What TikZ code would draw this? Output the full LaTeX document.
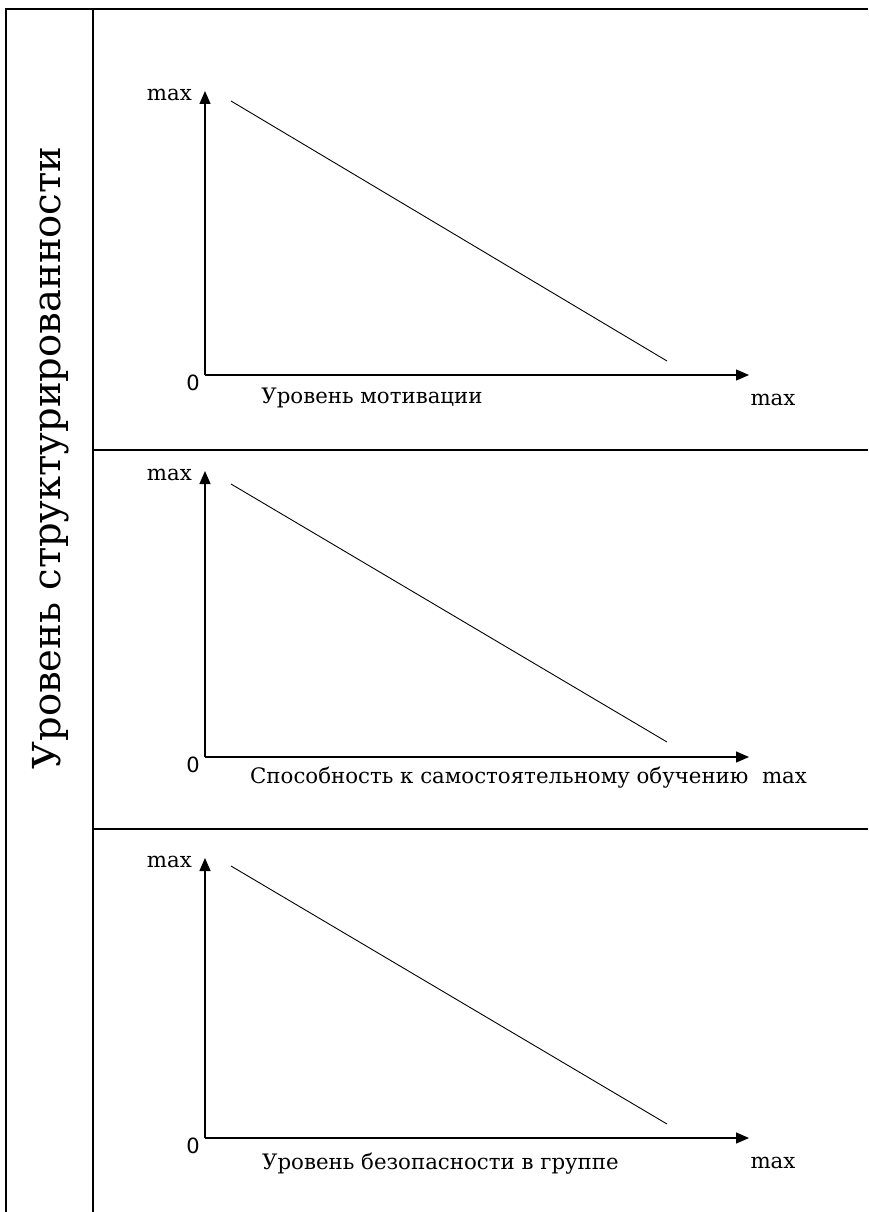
\documentclass[tikz,border=0pt]{standalone}
\usepackage{fontspec}
\setmainfont{DejaVu Serif}
\newfontfamily\zerofont{DejaVu Sans}
\newfontfamily\bigfont{DejaVu Serif}
\usetikzlibrary{arrows.meta}
\tikzset{
  frame/.style={line width=1.3pt, black},
  axis/.style={line width=1.3pt, -{Triangle[length=13pt,width=11pt]}},
  diag/.style={line width=0.9pt},
  lbl/.style={inner sep=0pt, font=\fontsize{21.3}{24}\selectfont},
  zero/.style={inner sep=0pt, font=\zerofont\fontsize{21}{24}\selectfont},
}
\begin{document}
\begin{tikzpicture}[x=1pt,y=-1pt]
\useasboundingbox (0,0) rectangle (868,1212);
% frame
\coordinate (tl) at (6,9);
\coordinate (tr) at (868,9);
\coordinate (bl) at (6,1212);
\coordinate (dt) at (93,9);
\coordinate (db) at (93,1212);
\coordinate (h1l) at (93,450);
\coordinate (h1r) at (868,450);
\coordinate (h2l) at (93,829);
\coordinate (h2r) at (868,829);
\draw[frame] (bl) -- (tl) -- (tr);
\draw[frame] (dt) -- (db);
\draw[frame] (h1l) -- (h1r);
\draw[frame] (h2l) -- (h2r);
\node[rotate=90, inner sep=0pt, font=\bigfont\fontsize{38.5}{40}\selectfont] (title) at (51,458) {Уровень структурированности};
% panels: index / axis y / tip y / diag start y / diag end y
\foreach \i/\ay/\ty/\sy/\ey in {1/375/91/101/361, 2/757/471/484/742, 3/1138/858/866/1124} {
  \coordinate (o\i) at (205,\ay);
  \coordinate (yt\i) at (205,\ty);
  \coordinate (xt\i) at (749,\ay);
  \coordinate (da\i) at (231,\sy);
  \coordinate (db\i) at (667,\ey);
  \draw[axis] (o\i) -- (yt\i);
  \draw[axis] (o\i) -- (xt\i);
  \draw[diag] (da\i) -- (db\i);
  \node[zero, anchor=center] (z\i) at (193,\ay+8) {0};
  \node[lbl, anchor=east] (ymax\i) at (192,\ty+4) {max};
}
\node[lbl] (xmax1) at (773,400) {max};
\node[lbl] (xl1) at (372,398) {Уровень мотивации};
\node[lbl, anchor=west] (xl2) at (250,778) {Способность к самостоятельному обучению\ \ max};
\node[lbl] (xmax3) at (773,1163) {max};
\node[lbl, anchor=west] (xl3) at (262,1164) {Уровень безопасности в группе};
\end{tikzpicture}
\end{document}
